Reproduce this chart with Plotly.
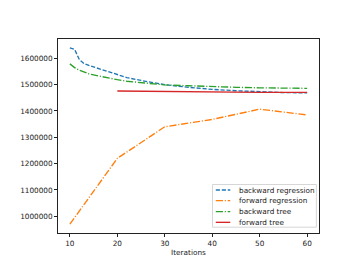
import plotly.graph_objects as go

# Data
bwd_reg_x = [10, 11, 12, 13, 14, 15, 16, 18, 20, 22, 25, 28, 30, 35, 40, 45, 50, 55, 60]
bwd_reg_y = [1640000, 1634000, 1595000, 1580000, 1573000, 1567000, 1561000, 1550000, 1538000,
             1527000, 1516000, 1506000, 1500000, 1490000, 1482000, 1477000, 1473000, 1470000, 1469000]

fwd_reg_x = [10, 20, 30, 40, 50, 60]
fwd_reg_y = [970000, 1220000, 1340000, 1368000, 1407000, 1385000]

bwd_tree_x = [10, 11, 12, 13, 14, 15, 16, 18, 20, 22, 25, 28, 30, 35, 40, 45, 50, 55, 60]
bwd_tree_y = [1579000, 1565000, 1555000, 1547000, 1541000, 1537000, 1533000, 1526000, 1519000,
              1513000, 1507000, 1502000, 1499000, 1496000, 1492000, 1490000, 1488000, 1487000, 1486000]

fwd_tree_x = [20, 30, 40, 50, 60]
fwd_tree_y = [1476000, 1474000, 1472000, 1471000, 1471000]

series_names = ["backward regression", "forward regression", "backward tree", "forward tree"]
x_ticks = [10, 20, 30, 40, 50, 60]
y_ticks = [1000000, 1100000, 1200000, 1300000, 1400000, 1500000, 1600000]

FONT = "DejaVu Sans"
FS = 7.3
TXT = "#222"
LW = 1.35
DASH = "4.2px,1.8px"
DASHDOT = "7.2px,1.8px,1.1px,1.8px"
styles = [
    dict(color="#1f77b4", width=LW, dash=DASH),
    dict(color="#ff7f0e", width=LW, dash=DASHDOT),
    dict(color="#2ca02c", width=LW, dash=DASHDOT),
    dict(color="#d62728", width=LW, dash="solid"),
]
data = [(bwd_reg_x, bwd_reg_y), (fwd_reg_x, fwd_reg_y), (bwd_tree_x, bwd_tree_y), (fwd_tree_x, fwd_tree_y)]

fig = go.Figure()
for name, (xs, ys), st in zip(series_names, data, styles):
    fig.add_trace(go.Scatter(x=xs, y=ys, mode="lines", name=name, line=st, showlegend=False))

# Compact matplotlib-style legend (lower right)
fig.add_shape(type="rect", xref="paper", yref="paper", x0=0.592, x1=0.990, y0=0.03, y1=0.25,
              line=dict(color="#cccccc", width=0.8), fillcolor="rgba(255,255,255,0.8)", layer="above")
row_y = [0.2215, 0.1665, 0.11, 0.055]
for name, st, ry in zip(series_names, styles, row_y):
    fig.add_shape(type="line", xref="paper", yref="paper", x0=0.6045, x1=0.660, y0=ry, y1=ry,
                  line=st, layer="above")
    fig.add_annotation(xref="paper", yref="paper", x=0.6866, y=ry, text=name, showarrow=False,
                       xanchor="left", yanchor="middle", font=dict(family=FONT, size=FS, color=TXT))

axis_common = dict(showgrid=False, zeroline=False, showline=True, linecolor=TXT,
                   linewidth=0.8, mirror=True, ticks="outside", ticklen=3, tickwidth=0.8,
                   tickcolor=TXT, tickfont=dict(family=FONT, size=FS, color=TXT))

fig.update_layout(
    width=346, height=260,
    margin=dict(l=43, r=35, t=31, b=29),
    paper_bgcolor="white", plot_bgcolor="white",
    font=dict(family=FONT, size=FS, color=TXT),
    xaxis=dict(range=[7.5, 62.5], tickvals=x_ticks, **axis_common,
               title=dict(text="Iterations", font=dict(family=FONT, size=FS, color=TXT), standoff=3)),
    yaxis=dict(range=[936500, 1673500], tickvals=y_ticks, tickformat="d", **axis_common),
    showlegend=False,
)

fig.write_html("out.html")
